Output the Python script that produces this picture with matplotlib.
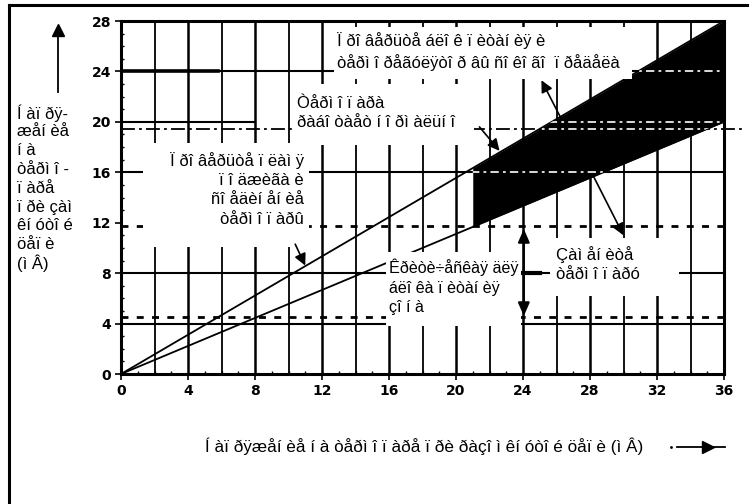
import matplotlib
matplotlib.use("Agg")
import matplotlib.pyplot as plt
import numpy as np
from matplotlib.patches import Rectangle, Polygon

plt.rcParams['lines.scale_dashes'] = False
plt.rcParams['font.family'] = ['Liberation Sans', 'DejaVu Sans']

# ---------------- data ----------------
x_ticks = [0, 4, 8, 12, 16, 20, 24, 28, 32, 36]
y_ticks = [0, 4, 8, 12, 16, 20, 24, 28]
x_tick_labels = ["0", "4", "8", "12", "16", "20", "24", "28", "32", "36"]
y_tick_labels = ["0", "4", "8", "12", "16", "20", "24", "28"]

line_x = [0, 36]
upper_line_y = [0, 28]      # upper boundary line
lower_line_y = [0, 20]      # lower boundary line
zone_x = [21, 36]           # shaded (normal operation) zone

v_grid = [2, 4, 6, 8, 10, 12, 14, 16, 18, 20, 22, 24, 26, 28, 30, 32, 34]
h_solid = [24, 16, 8, 4]
h_partial = 20
h_partial_end = 8
h_dashed = [19.4, 11.7, 4.5]
crit_low, crit_high = 4.6, 11.5

y_label_lines = ["Í àï ðÿ-", "æåí èå", "í à", "òåðì î -", "ï àðå",
                 "ï ðè çàì", "êí óòî é", "öåï è", "(ì Â)"]
x_label = "Í àï ðÿæåí èå í à òåðì î ï àðå ï ðè ðàçî ì êí óòî é öåï è (ì Â)"

txt_top = "Ï ðî âåðüòå áëî ê ï èòàí èÿ è\nòåðì î ðåãóëÿòî ð âû ñî êî ãî  ï ðåäåëà"
txt_ok = "Òåðì î ï àðà\nðàáî òàåò í î ðì àëüí î"
txt_flame = "Ï ðî âåðüòå ï ëàì ÿ\nï î äæèãà è\nñî åäèí åí èå\nòåðì î ï àðû"
txt_crit = "Êðèòè÷åñêàÿ äëÿ\náëî êà ï èòàí èÿ\nçî í à"
txt_repl = "Çàì åí èòå\nòåðì î ï àðó"

# ---------------- figure ----------------
W, H = 749, 504
fig = plt.figure(figsize=(W / 100, H / 100), dpi=100)
L, R, T, B = 121, 724, 21, 374
ax = fig.add_axes([L / W, 1 - B / H, (R - L) / W, (B - T) / H])
ax.set_xlim(0, 36)
ax.set_ylim(0, 28)

for s in ax.spines.values():
    s.set_linewidth(2.2)
    s.set_zorder(6)

ax.set_xticks(x_ticks)
ax.set_xticklabels(x_tick_labels)
ax.set_yticks(y_ticks)
ax.set_yticklabels(y_tick_labels)
ax.set_xticks(np.arange(0, 37, 1), minor=True)
ax.set_yticks(np.arange(0, 29, 1), minor=True)
ax.tick_params(which='major', length=4, width=1.2, labelsize=10, pad=3)
ax.tick_params(which='minor', direction='in', length=2, width=1)
for lab in ax.get_xticklabels() + ax.get_yticklabels():
    lab.set_family('DejaVu Sans')
    lab.set_fontweight('bold')

# grid
for xv in v_grid:
    ax.axvline(xv, color='black', lw=1.8 if xv % 4 == 0 else 1.3, zorder=1)
for yv in h_solid:
    ax.axhline(yv, color='black', lw=1.5, zorder=1)
ax.plot([0, h_partial_end], [h_partial, h_partial], color='black', lw=1.5, zorder=1)
ax.plot([0, 37.3], [h_dashed[0], h_dashed[0]], color='black', lw=1.3,
        linestyle=(0, (10, 3, 2, 3)), zorder=1, clip_on=False)
ax.plot([0, 36], [h_dashed[1], h_dashed[1]], color='black', lw=2.0,
        linestyle=(0, (5, 6)), zorder=1)
ax.plot([0, 36], [h_dashed[2], h_dashed[2]], color='black', lw=2.0,
        linestyle=(0, (5, 6)), zorder=1)
ax.plot([0, 5.8], [24, 24], color='black', lw=2.6, zorder=1)
ax.plot([24, 25], [8, 8], color='black', lw=3, zorder=1)

# boundary lines
ax.plot(line_x, upper_line_y, color='black', lw=1.3, zorder=2)
ax.plot(line_x, lower_line_y, color='black', lw=1.3, zorder=2)

# shaded zone
zx = np.linspace(zone_x[0], zone_x[1], 50)
zu = np.interp(zx, line_x, upper_line_y)
zl = np.interp(zx, line_x, lower_line_y)
ax.fill_between(zx, zl, zu, color='black', lw=0, zorder=2)
poly = Polygon(np.column_stack([np.r_[zx, zx[::-1]], np.r_[zl, zu[::-1]]]),
               closed=True, fc='none', ec='none', transform=ax.transData)
ax.add_patch(poly)
for yv in [24, 20, 19.4, 16]:
    ln, = ax.plot([0, 36], [yv, yv], color='white', lw=1.2,
                  linestyle=(0, (6, 3, 2, 3)), zorder=2.5)
    ln.set_clip_path(poly)

# white boxes behind texts
boxes = [(12.7, 23.4, 17.8, 4.1), (10.3, 18.2, 10.8, 4.8),
         (1.3, 10.1, 9.9, 8.2), (15.8, 3.8, 8.1, 5.9), (25.6, 6.2, 7.7, 4.6)]
for (bx, by, bw, bh) in boxes:
    ax.add_patch(Rectangle((bx, by), bw, bh, fc='white', ec='none', zorder=3))

fs = 12
ls = 1.36
ax.text(12.9, 25.55, txt_top, ha='left', va='center', fontsize=fs,
        linespacing=ls, zorder=4)
ax.text(10.5, 20.7, txt_ok, ha='left', va='center', fontsize=fs,
        linespacing=ls, zorder=4)
ax.text(10.9, 14.65, txt_flame, ha='right', va='center', fontsize=fs,
        linespacing=ls, multialignment='right', zorder=4)
ax.text(16.0, 6.9, txt_crit, ha='left', va='center', fontsize=11.6,
        linespacing=ls, zorder=4)
ax.text(26.0, 8.75, txt_repl, ha='left', va='center', fontsize=fs,
        linespacing=ls, zorder=4)

aprops = dict(arrowstyle='-|>,head_length=0.7,head_width=0.35', color='black',
              lw=1.2, shrinkA=0, shrinkB=0)
ax.annotate('', xy=(25.1, 23.3), xytext=(26.3, 20.2), arrowprops=aprops, zorder=5)
ax.annotate('', xy=(22.6, 17.7), xytext=(21.4, 19.6), arrowprops=aprops, zorder=5)
ax.annotate('', xy=(11.0, 8.6), xytext=(10.4, 10.3), arrowprops=aprops, zorder=5)
ax.annotate('', xy=(30.0, 11.0), xytext=(28.2, 15.7), arrowprops=aprops, zorder=5)
ax.annotate('', xy=(24.05, crit_high), xytext=(24.05, crit_low),
            arrowprops=dict(arrowstyle='<|-|>,head_length=0.8,head_width=0.35',
                            color='black', lw=1.5, shrinkA=0, shrinkB=0), zorder=5)

# axis titles (as figure text)
ytop = 113
for i, line in enumerate(y_label_lines):
    fig.text(17 / W, 1 - (ytop + i * 18.8) / H, line, ha='left', va='center',
             fontsize=fs)
fig.text(424 / W, 1 - 446 / H, x_label, ha='center', va='center', fontsize=12.3)

# little direction arrows
fig.add_artist(plt.Line2D([58 / W, 58 / W], [1 - 92 / H, 1 - 32 / H],
                          color='black', lw=1.3))
fig.add_artist(plt.Line2D([58 / W], [1 - 30 / H], marker='^', markersize=9,
                          color='black', lw=0))
fig.add_artist(plt.Line2D([671 / W], [1 - 447 / H], marker='.', markersize=2,
                          color='black', lw=0))
fig.add_artist(plt.Line2D([677 / W, 725 / W], [1 - 447 / H, 1 - 447 / H],
                          color='black', lw=1.3))
fig.add_artist(plt.Line2D([708 / W], [1 - 447 / H], marker='>', markersize=8,
                          color='black', lw=0))

# page frame (top and left)
fig.add_artist(plt.Line2D([9 / W, 9 / W], [0, 1 - 5 / H], color='black', lw=2.2))
fig.add_artist(plt.Line2D([9 / W, 1], [1 - 5 / H, 1 - 5 / H], color='black', lw=2.2))

fig.savefig("out.png", dpi=100)
